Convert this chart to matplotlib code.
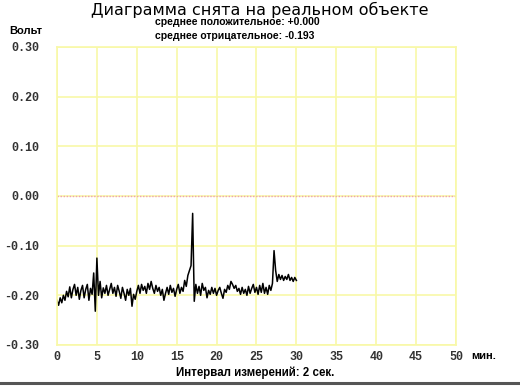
import numpy as np
import matplotlib
matplotlib.use('Agg')
import matplotlib.pyplot as plt
from matplotlib.lines import Line2D

# voltage, one value every 0.2 min (0 .. 30 min)
volts = [
	-0.210, -0.220, -0.205, -0.215, -0.200, -0.210, -0.192, -0.203, -0.183, -0.205,
	-0.188, -0.178, -0.200, -0.184, -0.208, -0.190, -0.180, -0.205, -0.188, -0.178,
	-0.210, -0.186, -0.198, -0.155, -0.232,
	-0.125, -0.200, -0.172, -0.205, -0.185, -0.196, -0.180, -0.200, -0.188, -0.176,
	-0.196, -0.184, -0.202, -0.180, -0.192, -0.206, -0.184, -0.196, -0.210, -0.188,
	-0.200, -0.186, -0.222, -0.198, -0.208,
	-0.192, -0.180, -0.196, -0.178, -0.190, -0.182, -0.196, -0.176, -0.188, -0.172,
	-0.186, -0.196, -0.180, -0.192, -0.184, -0.200, -0.188, -0.210, -0.196, -0.184,
	-0.198, -0.180, -0.194, -0.186, -0.202,
	-0.188, -0.178, -0.196, -0.184, -0.192, -0.170, -0.182, -0.160, -0.150, -0.140,
	-0.035, -0.212, -0.178, -0.196, -0.182, -0.200, -0.176, -0.190, -0.184, -0.205,
	-0.190, -0.198, -0.184, -0.196, -0.186,
	-0.200, -0.190, -0.184, -0.196, -0.206, -0.188, -0.194, -0.180, -0.188, -0.172,
	-0.178, -0.186, -0.180, -0.192, -0.186, -0.198, -0.184, -0.196, -0.188, -0.200,
	-0.182, -0.196, -0.186, -0.178, -0.194,
	-0.184, -0.198, -0.180, -0.194, -0.176, -0.196, -0.184, -0.198, -0.180, -0.190,
	-0.176, -0.110, -0.150, -0.172, -0.158, -0.168, -0.160, -0.170, -0.162, -0.168,
	-0.158, -0.170, -0.164, -0.172, -0.164, -0.170,
]
minutes = np.linspace(0, 30, len(volts))

x_ticks = [0, 5, 10, 15, 20, 25, 30, 35, 40, 45, 50]
y_ticks = [-0.3, -0.2, -0.1, 0.0, 0.1, 0.2, 0.3]
y_labels = ['-0.30', '-0.20', '-0.10', '0.00', '0.10', '0.20', '0.30']

title = 'Диаграмма снята на реальном объекте'
pos_text = 'среднее положительное: +0.000'
neg_text = 'среднее отрицательное: -0.193'
interval_text = 'Интервал измерений: 2 сек.'

fig = plt.figure(figsize=(5.2, 3.9), dpi=100)
ax = fig.add_axes([0.1096, 0.1154, 0.7673, 0.7641])

grid_col = '#f8f8a8'
for side in ax.spines.values():
	side.set_color(grid_col)
	side.set_linewidth(1.2)

ax.set_xlim(0, 50)
ax.set_ylim(-0.3, 0.3)
ax.set_xticks(x_ticks)
ax.set_yticks(y_ticks)
ax.set_yticklabels(y_labels)
ax.grid(True, color=grid_col, linewidth=1.2)
ax.tick_params(length=0, colors='#333333')
ax.tick_params(axis='x', pad=4)
ax.tick_params(axis='y', pad=13)
for lbl in ax.get_xticklabels() + ax.get_yticklabels():
	lbl.set_family('Liberation Mono')
	lbl.set_fontweight('bold')
	lbl.set_fontsize(8.5)

ax.axhline(0.0, color='#f0a0b0', linestyle=(0, (1, 1.2)), linewidth=1.0)
ax.plot(minutes, volts, color='black', linewidth=1.1)

fig.text(0.5, 0.975, title, ha='center', va='center', fontsize=11.5, family='DejaVu Sans')
fig.text(0.298, 0.944, pos_text, ha='left', va='center', fontsize=7.5, fontweight='bold',
	family='Liberation Sans')
fig.text(0.298, 0.908, neg_text, ha='left', va='center', fontsize=7.5, fontweight='bold',
	family='Liberation Sans')
fig.text(0.017, 0.921, 'Вольт', ha='left', va='center', fontsize=8, fontweight='bold',
	family='Liberation Sans')
fig.text(0.907, 0.088, 'мин.', ha='left', va='center', fontsize=8, fontweight='bold',
	family='Liberation Sans')
fig.text(0.49, 0.043, interval_text, ha='center', va='center', fontsize=8.3, fontweight='bold',
	family='Liberation Sans')

fig.add_artist(Line2D([0, 1], [0.017, 0.017], transform=fig.transFigure, color='#555555', linewidth=2.2))

fig.savefig('out.png', dpi=100)
